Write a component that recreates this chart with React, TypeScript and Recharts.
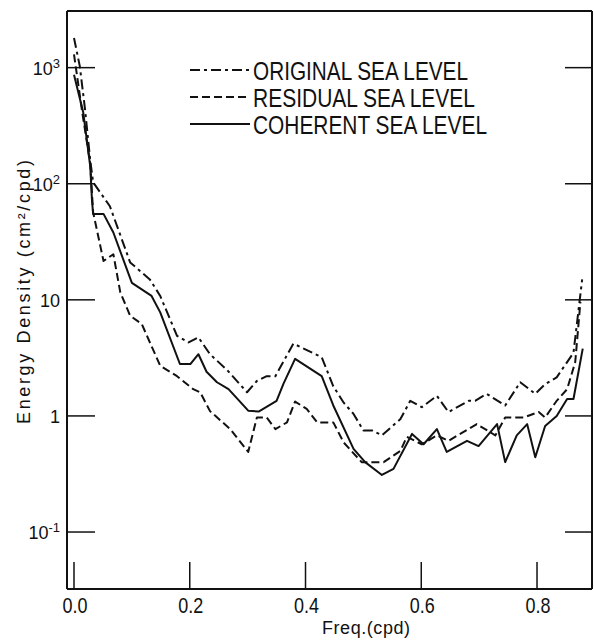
import React from "react";
import { LineChart, Line, XAxis, YAxis, Legend } from "recharts";

// frequency (cpd) and energy density (cm^2/cpd)
const originalFreq = [
  0.0, 0.01, 0.019, 0.028, 0.033, 0.062, 0.097, 0.131, 0.149, 0.178, 0.198, 0.215, 0.235, 0.264,
  0.299, 0.316, 0.333, 0.348, 0.379, 0.428, 0.448, 0.466, 0.483, 0.5, 0.515, 0.532, 0.564, 0.581,
  0.601, 0.627, 0.647, 0.682, 0.693, 0.713, 0.745, 0.771, 0.797, 0.814, 0.834, 0.863, 0.878,
];
const originalLevel = [
  1800, 1030, 440, 160, 103, 64, 21, 15, 10.8, 4.9, 4.3, 4.75, 3.4, 2.5,
  1.6, 2.0, 2.2, 2.2, 4.2, 3.2, 1.8, 1.3, 1.04, 0.75, 0.75, 0.68, 0.94, 1.35,
  1.19, 1.49, 1.08, 1.35, 1.35, 1.55, 1.23, 1.95, 1.55, 1.88, 2.15, 3.5, 15,
];

const residualFreq = [
  0.0, 0.014, 0.028, 0.033, 0.051, 0.068, 0.08, 0.097, 0.117, 0.149, 0.178, 0.206, 0.218, 0.235,
  0.27, 0.301, 0.316, 0.333, 0.348, 0.368, 0.382, 0.402, 0.42, 0.448, 0.466, 0.497, 0.535, 0.564,
  0.575, 0.601, 0.627, 0.647, 0.696, 0.728, 0.745, 0.777, 0.803, 0.814, 0.834, 0.852, 0.866, 0.875,
];
const residualLevel = [
  1300, 420, 150, 57, 21.6, 24.7, 11.6, 7.3, 6.2, 2.7, 2.2, 1.7, 1.6, 1.1,
  0.77, 0.49, 0.97, 0.97, 0.77, 0.88, 1.33, 1.15, 0.88, 0.88, 0.59, 0.4, 0.4, 0.5,
  0.66, 0.57, 0.68, 0.61, 0.85, 0.68, 0.97, 0.97, 1.08, 0.97, 1.35, 1.7, 2.9, 9.6,
];

const coherentFreq = [
  0.0, 0.016, 0.028, 0.031, 0.033, 0.051, 0.068, 0.1, 0.134, 0.149, 0.183, 0.201, 0.215, 0.229,
  0.247, 0.267, 0.301, 0.319, 0.35, 0.362, 0.382, 0.428, 0.448, 0.483, 0.503, 0.532, 0.552, 0.584,
  0.604, 0.627, 0.644, 0.679, 0.699, 0.731, 0.745, 0.765, 0.783, 0.797, 0.814, 0.834, 0.852, 0.863,
  0.879,
];
const coherentLevel = [
  870, 410, 142, 73, 55, 55, 38, 14, 10.8, 7.8, 2.8, 2.8, 3.4, 2.4,
  1.95, 1.7, 1.11, 1.09, 1.35, 1.9, 3.1, 2.2, 1.23, 0.52, 0.4, 0.31, 0.35, 0.7,
  0.57, 0.77, 0.49, 0.61, 0.55, 0.85, 0.4, 0.68, 0.85, 0.44, 0.82, 1.0, 1.4, 1.4,
  3.8,
];

const FREQ_TICKS = [0, 0.2, 0.4, 0.6, 0.8];
const DENSITY_TICKS = [0.1, 1, 10, 100, 1000];
const DENSITY_BASE = ["10", "1", "10", "10", "10"];
const DENSITY_EXP = ["-1", "", "", "2", "3"];

const INK = "#111";
const FONT = "'Liberation Sans', Arial, sans-serif";
const X_DOMAIN: [number, number] = [-0.0121, 0.895];
const Y_DOMAIN: [number, number] = [0.0323, 3076];

const toPoints = (freq: number[], level: number[]) =>
  freq.map((f, i) => ({ freq: f, level: level[i] }));

const SERIES = [
  { name: "ORIGINAL SEA LEVEL", points: toPoints(originalFreq, originalLevel), dash: "10 4 3 4", textLen: 215 },
  { name: "RESIDUAL SEA LEVEL", points: toPoints(residualFreq, residualLevel), dash: "8 4", textLen: 222 },
  { name: "COHERENT SEA LEVEL", points: toPoints(coherentFreq, coherentLevel), dash: undefined, textLen: 234 },
];

function BottomTick({ x, y, payload }: any) {
  return (
    <g>
      <line x1={x} y1={y} x2={x} y2={y - 27} stroke={INK} strokeWidth={1.5} />
      <text x={x + 1} y={y + 24} textAnchor="middle" fontSize={22} fontFamily={FONT} fill={INK}
        textLength={25} lengthAdjust="spacingAndGlyphs">
        {Number(payload.value).toFixed(1)}
      </text>
    </g>
  );
}

function TopTick({ x, y }: any) {
  return <line x1={x} y1={y} x2={x} y2={y + 30} stroke={INK} strokeWidth={1.5} />;
}

function LeftTick({ x, y, payload }: any) {
  const i = DENSITY_TICKS.indexOf(payload.value);
  const exp = DENSITY_EXP[i];
  return (
    <g>
      <line x1={x} y1={y} x2={x + 28} y2={y} stroke={INK} strokeWidth={1.5} />
      <text x={x - 7} y={y + 7} textAnchor="end" fontSize={18} fontFamily={FONT} fill={INK}>
        <tspan>{DENSITY_BASE[i]}</tspan>
        {exp && (
          <tspan dy={-7} fontSize={13}>
            {exp}
          </tspan>
        )}
      </text>
    </g>
  );
}

function RightTick({ x, y }: any) {
  return <line x1={x} y1={y} x2={x - 27} y2={y} stroke={INK} strokeWidth={1.5} />;
}

function LegendBox({ payload }: any) {
  const names: string[] = (payload || []).map((p: any) => p.value);
  const rows = SERIES.filter((s) => names.length === 0 || names.includes(s.name));
  return (
    <svg width={400} height={90} style={{ display: "block", overflow: "visible" }}>
      {rows.map((s, i) => {
        const lineY = 15 + i * 27;
        return (
          <g key={s.name}>
            <line x1={5} y1={lineY} x2={65} y2={lineY} stroke={INK} strokeWidth={2}
              strokeDasharray={s.dash} />
            <text x={68} y={lineY + 10} fontSize={25} fontFamily={FONT} fill={INK}
              textLength={s.textLen} lengthAdjust="spacingAndGlyphs">
              {s.name}
            </text>
          </g>
        );
      })}
    </svg>
  );
}

function YTitle() {
  return (
    <text x={30} y={292} transform="rotate(-90, 30, 292)" textAnchor="middle" fontSize={18}
      fontFamily={FONT} fill={INK} textLength={264} lengthAdjust="spacing">
      Energy Density (cm²/cpd)
    </text>
  );
}

function XTitle() {
  return (
    <text x={366} y={634} textAnchor="middle" fontSize={18} fontFamily={FONT} fill={INK}
      textLength={88} lengthAdjust="spacing">
      Freq.(cpd)
    </text>
  );
}

export default function App() {
  return (
    <div style={{ position: "absolute", left: 0, top: 0, background: "#fff" }}>
      <LineChart width={594} height={640} margin={{ top: 0, right: 0, bottom: 0, left: 0 }}>
        <XAxis type="number" dataKey="freq" domain={X_DOMAIN} allowDataOverflow ticks={FREQ_TICKS}
          height={51} tickSize={0} tickMargin={0} tickLine={false} tick={<BottomTick />}
          axisLine={{ stroke: INK, strokeWidth: 2 }} label={<XTitle />} />
        <XAxis xAxisId="top" orientation="top" type="number" domain={X_DOMAIN} allowDataOverflow
          ticks={FREQ_TICKS} height={11} tickSize={0} tickMargin={0} tickLine={false} tick={<TopTick />}
          axisLine={{ stroke: INK, strokeWidth: 2 }} />
        <YAxis type="number" scale="log" domain={Y_DOMAIN} allowDataOverflow ticks={DENSITY_TICKS}
          width={67} tickSize={0} tickMargin={0} tickLine={false} tick={<LeftTick />}
          axisLine={{ stroke: INK, strokeWidth: 2 }} label={<YTitle />} />
        <YAxis yAxisId="right" orientation="right" type="number" scale="log" domain={Y_DOMAIN}
          allowDataOverflow ticks={DENSITY_TICKS} width={2} tickSize={0} tickMargin={0} tickLine={false}
          tick={<RightTick />} axisLine={{ stroke: INK, strokeWidth: 2 }} />
        <Legend verticalAlign="middle" align="center" layout="horizontal" content={<LegendBox />}
          wrapperStyle={{ left: 185, top: 55, width: 400, height: 90 }} />
        {SERIES.map((s) => (
          <Line key={s.name} name={s.name} data={s.points} dataKey="level" type="linear" dot={false}
            stroke={INK} strokeWidth={2} strokeDasharray={s.dash} strokeLinejoin="round"
            isAnimationActive={false} legendType="line" />
        ))}
      </LineChart>
    </div>
  );
}
